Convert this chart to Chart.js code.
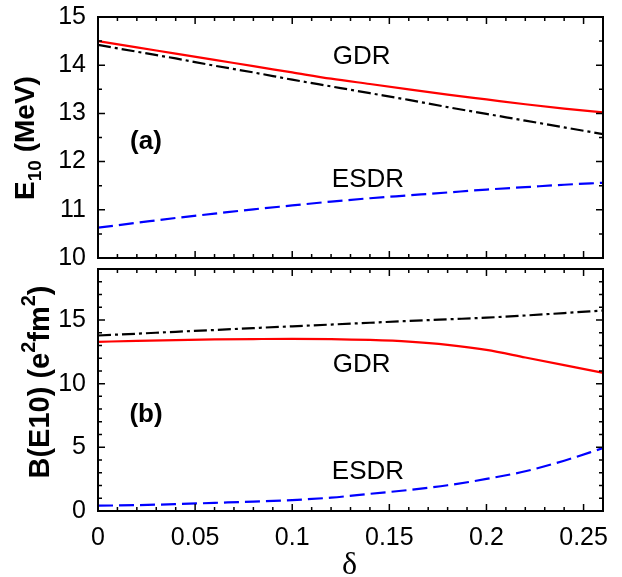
<!DOCTYPE html>
<html>
<head>
<meta charset="utf-8">
<script src="https://cdn.jsdelivr.net/npm/chart.js@4.4.0/dist/chart.umd.min.js"></script>
<style>
  html, body { margin: 0; padding: 0; background: #fff; }
  #wrap { position: relative; width: 622px; height: 577px; }
  canvas { position: absolute; left: 0; }
  #panel-a { top: 0; }
  #panel-b { top: 262px; }
</style>
</head>
<body>
<div id="wrap">
  <canvas id="panel-a" width="622" height="276"></canvas>
  <canvas id="panel-b" width="622" height="315"></canvas>
</div>
<script>
// deformation delta
const deltas = [0, 0.02, 0.04, 0.06, 0.08, 0.10, 0.12, 0.14, 0.16, 0.18, 0.20, 0.22, 0.24, 0.26];

// (a) energies, MeV
const gdrEnergy   = [14.50, 14.37, 14.24, 14.11, 13.98, 13.85, 13.72, 13.61, 13.50, 13.39, 13.29, 13.19, 13.10, 13.02];
const esdrEnergy  = [10.63, 10.73, 10.83, 10.92, 11.01, 11.09, 11.17, 11.24, 11.30, 11.36, 11.42, 11.47, 11.52, 11.56];
const totalEnergy = [14.42, 14.28, 14.14, 13.99, 13.85, 13.70, 13.56, 13.42, 13.28, 13.13, 12.99, 12.85, 12.71, 12.57];

// (b) strengths, e^2 fm^2
const gdrStrength   = [13.28, 13.36, 13.42, 13.47, 13.50, 13.52, 13.50, 13.43, 13.30, 13.05, 12.65, 12.05, 11.45, 10.85];
const esdrStrength  = [0.42, 0.46, 0.54, 0.64, 0.74, 0.86, 1.05, 1.35, 1.65, 2.02, 2.52, 3.12, 3.95, 4.94];
const totalStrength = [13.78, 13.92, 14.07, 14.21, 14.36, 14.50, 14.64, 14.78, 14.92, 15.05, 15.18, 15.35, 15.54, 15.74];

const FONT = '"Liberation Sans", Arial, Helvetica, sans-serif';

const pts = (arr) => deltas.map((d, i) => ({ x: d, y: arr[i] }));

const line = (arr, color, dash) => ({
  data: pts(arr),
  borderColor: color,
  borderWidth: 2.2,
  borderDash: dash,
  pointRadius: 0,
  cubicInterpolationMode: 'monotone',
  fill: false,
});

// frame with inward ticks on all four sides
const framePlugin = {
  id: 'frame',
  afterDatasetsDraw(chart, args, opts) {
    const { ctx, chartArea: a, scales: { x, y } } = chart;
    ctx.save();
    ctx.strokeStyle = '#000';
    ctx.lineWidth = 1.5;
    ctx.beginPath();
    const nx = Math.round((x.max - x.min) / 0.01);
    for (let i = 0; i <= nx; i++) {
      const px = x.getPixelForValue(x.min + i * 0.01);
      const len = i % 5 === 0 ? 7 : 4;
      ctx.moveTo(px, a.bottom); ctx.lineTo(px, a.bottom - len);
      ctx.moveTo(px, a.top); ctx.lineTo(px, a.top + len);
    }
    const ny = Math.round((y.max - y.min) / opts.minor);
    for (let i = 0; i <= ny; i++) {
      const v = y.min + i * opts.minor;
      const r = v / opts.major;
      const len = Math.abs(r - Math.round(r)) < 1e-6 ? 7 : 4;
      const py = y.getPixelForValue(v);
      ctx.moveTo(a.left, py); ctx.lineTo(a.left + len, py);
      ctx.moveTo(a.right, py); ctx.lineTo(a.right - len, py);
    }
    ctx.stroke();
    ctx.lineWidth = 2;
    ctx.strokeRect(a.left, a.top, a.right - a.left, a.bottom - a.top);
    ctx.restore();
  }
};

// labels inside panels + rotated y title
const textPlugin = {
  id: 'panelText',
  afterDraw(chart, args, opts) {
    const { ctx, scales: { x, y } } = chart;
    ctx.save();
    ctx.fillStyle = '#000';
    ctx.textAlign = 'center';
    ctx.textBaseline = 'middle';
    opts.labels.forEach((l) => {
      ctx.font = (l.bold ? 'bold ' : '') + l.size + 'px ' + FONT;
      ctx.fillText(l.text, x.getPixelForValue(l.x), y.getPixelForValue(l.y));
    });

    // y title, pieces with sub/superscripts
    const t = opts.title;
    ctx.translate(t.x, t.y);
    ctx.rotate(-Math.PI / 2);
    ctx.textAlign = 'left';
    ctx.textBaseline = 'alphabetic';
    let w = 0;
    t.parts.forEach((p) => { ctx.font = 'bold ' + p.size + 'px ' + FONT; w += ctx.measureText(p.text).width; });
    let cx = -w / 2;
    t.parts.forEach((p) => {
      ctx.font = 'bold ' + p.size + 'px ' + FONT;
      ctx.fillText(p.text, cx, p.dy || 0);
      cx += ctx.measureText(p.text).width;
    });
    ctx.restore();

    if (opts.xTitle) {
      ctx.save();
      ctx.fillStyle = '#000';
      ctx.font = '32px "Liberation Serif", "DejaVu Serif", serif';
      ctx.textAlign = 'center';
      ctx.textBaseline = 'alphabetic';
      ctx.fillText(opts.xTitle.text, x.getPixelForValue(opts.xTitle.value), opts.xTitle.y);
      ctx.restore();
    }
  }
};

const yAxis = (min, max, step) => ({
  min, max,
  grid: { display: false, drawTicks: false },
  border: { display: false },
  ticks: {
    stepSize: step,
    includeBounds: false,
    color: '#000',
    padding: 12,
    font: { family: FONT, size: 25 },
  },
  afterFit: (s) => { s.width = 98; s.paddingTop = 0; s.paddingBottom = 0; },
});

// panel (a)
new Chart(document.getElementById('panel-a'), {
  type: 'line',
  data: {
    datasets: [
      line(totalEnergy, '#000000', [13, 4, 3, 4]),
      line(esdrEnergy, '#0000ff', [15, 6]),
      line(gdrEnergy, '#ff0000', []),
    ],
  },
  options: {
    responsive: false,
    devicePixelRatio: 1,
    animation: false,
    layout: { padding: { top: 17, right: 19, bottom: 18, left: 0 } },
    scales: {
      x: { type: 'linear', min: 0, max: 0.26, display: false },
      y: yAxis(10, 15, 1),
    },
    plugins: {
      legend: { display: false },
      tooltip: { enabled: false },
      frame: { minor: 0.5, major: 1 },
      panelText: {
        labels: [
          { text: 'GDR', x: 0.1357, y: 14.17, size: 26 },
          { text: 'ESDR', x: 0.139, y: 11.63, size: 26 },
          { text: '(a)', x: 0.0247, y: 12.41, size: 26, bold: true },
        ],
        title: {
          x: 34, y: 138,
          parts: [
            { text: 'E', size: 28 },
            { text: '10', size: 19, dy: 7 },
            { text: ' (MeV)', size: 28 },
          ],
        },
      },
    },
  },
  plugins: [framePlugin, textPlugin],
});

// panel (b)
new Chart(document.getElementById('panel-b'), {
  type: 'line',
  data: {
    datasets: [
      line(totalStrength, '#000000', [13, 4, 3, 4]),
      line(esdrStrength, '#0000ff', [15, 6]),
      line(gdrStrength, '#ff0000', []),
    ],
  },
  options: {
    responsive: false,
    devicePixelRatio: 1,
    animation: false,
    layout: { padding: { top: 7, right: 19, bottom: 0, left: 0 } },
    scales: {
      x: {
        type: 'linear', min: 0, max: 0.26,
        grid: { display: false, drawTicks: false },
        border: { display: false },
        ticks: {
          stepSize: 0.05,
          includeBounds: false,
          autoSkip: false,
          maxRotation: 0,
          color: '#000',
          padding: 12,
          font: { family: FONT, size: 25 },
          callback: (v) => String(+v.toFixed(2)),
        },
        afterFit: (s) => { s.height = 66; s.paddingLeft = 0; s.paddingRight = 0; },
      },
      y: yAxis(0, 19, 5),
    },
    plugins: {
      legend: { display: false },
      tooltip: { enabled: false },
      frame: { minor: 1, major: 5 },
      panelText: {
        labels: [
          { text: 'GDR', x: 0.1357, y: 11.5, size: 26 },
          { text: 'ESDR', x: 0.139, y: 3.1, size: 26 },
          { text: '(b)', x: 0.0247, y: 7.56, size: 26, bold: true },
        ],
        title: {
          x: 49, y: 120,
          parts: [
            { text: 'B(E10) (e', size: 29 },
            { text: '2', size: 20, dy: -14 },
            { text: 'fm', size: 29 },
            { text: '2', size: 20, dy: -14 },
            { text: ')', size: 29 },
          ],
        },
        xTitle: { text: 'δ', value: 0.1295, y: 312 },
      },
    },
  },
  plugins: [framePlugin, textPlugin],
});
</script>
</body>
</html>
